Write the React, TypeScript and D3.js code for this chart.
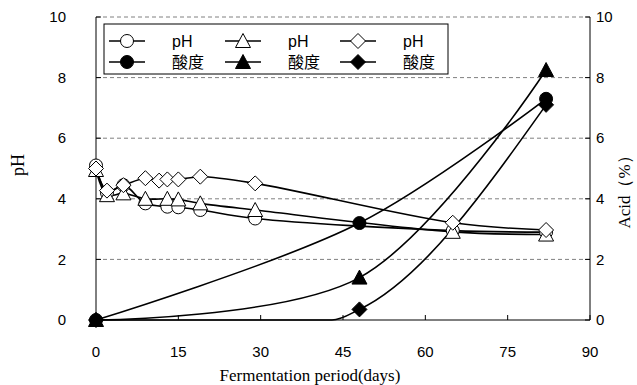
import React from "react";
import * as d3 from "d3";

// Fermentation days and measurements for three batches (circle, triangle, diamond)
const phCircleDays = [0, 2, 5, 9, 13, 15, 19, 29, 65, 82];
const phCircle = [5.1, 4.2, 4.45, 3.85, 3.74, 3.72, 3.63, 3.35, 2.95, 2.9];

const phTriangleDays = [0, 2, 5, 9, 13, 15, 19, 29, 65, 82];
const phTriangle = [4.95, 4.12, 4.18, 4.0, 4.0, 3.98, 3.85, 3.63, 2.91, 2.82];

const phDiamondDays = [0, 2, 5, 9, 11.5, 13, 15, 19, 29, 65, 82];
const phDiamond = [5.0, 4.27, 4.45, 4.68, 4.6, 4.64, 4.64, 4.73, 4.51, 3.21, 2.97];

const acidCircleDays = [0, 48, 82];
const acidCircle = [0, 3.2, 7.3];

const acidTriangleDays = [0, 48, 82];
const acidTriangle = [0, 1.4, 8.25];

const acidDiamondDays = [0, 43, 48, 82];
const acidDiamond = [0, 0, 0.35, 7.1];
const acidDiamondMarked = [true, false, true, true];

const xTicks = [0, 15, 30, 45, 60, 75, 90];
const yTicks = [0, 2, 4, 6, 8, 10];
const legendLabels = ["pH", "酸度"];

type Shape = "circle" | "triangle" | "diamond";

const W = 637;
const H = 385;
const left = 96;
const right = 590;
const top = 17;
const bottom = 320;

const x = d3.scaleLinear().domain([0, 90]).range([left, right]);
const yPH = d3.scaleLinear().domain([0, 10]).range([bottom, top]);
const yAcid = d3.scaleLinear().domain([0, 10]).range([bottom, top]);

const sansFont = "'Liberation Sans', Arial, sans-serif";
const serifFont = "'Liberation Serif', 'Times New Roman', serif";
const cjkFont = "'Liberation Sans', 'Noto Sans CJK SC', sans-serif";

function Marker({ shape, cx, cy, filled }: { shape: Shape; cx: number; cy: number; filled: boolean }) {
  const fill = filled ? "#000" : "#fff";
  if (shape === "circle") {
    return <circle cx={cx} cy={cy} r={6.5} fill={fill} stroke="#000" strokeWidth={1} />;
  }
  if (shape === "triangle") {
    const s = 7.5;
    const p = `${cx},${cy - s} ${cx + s},${cy + 6.5} ${cx - s},${cy + 6.5}`;
    return <polygon points={p} fill={fill} stroke="#000" strokeWidth={1} />;
  }
  const s = 7.5;
  const p = `${cx},${cy - s} ${cx + s},${cy} ${cx},${cy + s} ${cx - s},${cy}`;
  return <polygon points={p} fill={fill} stroke="#000" strokeWidth={1} />;
}

interface Series {
  days: number[];
  values: number[];
  shape: Shape;
  filled: boolean;
  scale: d3.ScaleLinear<number, number>;
  curve: d3.CurveFactory;
  marked?: boolean[];
}

const smooth = d3.curveCatmullRom.alpha(0.5);
const rising = d3.curveMonotoneX;

const seriesList: Series[] = [
  { days: acidCircleDays, values: acidCircle, shape: "circle", filled: true, scale: yAcid, curve: smooth },
  { days: acidTriangleDays, values: acidTriangle, shape: "triangle", filled: true, scale: yAcid, curve: smooth },
  { days: acidDiamondDays, values: acidDiamond, shape: "diamond", filled: true, scale: yAcid, curve: rising, marked: acidDiamondMarked },
  { days: phCircleDays, values: phCircle, shape: "circle", filled: false, scale: yPH, curve: smooth },
  { days: phTriangleDays, values: phTriangle, shape: "triangle", filled: false, scale: yPH, curve: smooth },
  { days: phDiamondDays, values: phDiamond, shape: "diamond", filled: false, scale: yPH, curve: smooth },
];

export default function App() {
  const gridTicks = yTicks.filter((t) => t > 0);

  const lineFor = (s: Series) =>
    d3
      .line<number>()
      .x((_, i) => x(s.days[i]))
      .y((v) => s.scale(v))
      .curve(s.curve)(s.values) || "";

  const legendGroups: { shape: Shape; cx: number; tx: number }[] = [
    { shape: "circle", cx: 127, tx: 172 },
    { shape: "triangle", cx: 243, tx: 288 },
    { shape: "diamond", cx: 358, tx: 403 },
  ];
  const legendRows = [41, 62];

  return (
    <svg
      width={W}
      height={H}
      style={{ position: "absolute", left: 0, top: 0, background: "#fff" }}
    >
      <rect x={0} y={0} width={W} height={H} fill="#fff" />

      {/* dashed horizontal gridlines */}
      {gridTicks.map((t) => (
        <line
          key={`g${t}`}
          x1={left}
          x2={right}
          y1={yPH(t)}
          y2={yPH(t)}
          stroke="#808080"
          strokeWidth={1}
          strokeDasharray="4,3"
        />
      ))}

      {/* axes */}
      <line x1={left} x2={left} y1={top} y2={bottom} stroke="#000" strokeWidth={1} />
      <line x1={right} x2={right} y1={top} y2={bottom} stroke="#000" strokeWidth={1} />
      <line x1={left} x2={right} y1={bottom} y2={bottom} stroke="#000" strokeWidth={1} />

      {yTicks.map((t) => (
        <g key={`yl${t}`}>
          <line x1={left} x2={left + 5} y1={yPH(t)} y2={yPH(t)} stroke="#000" />
          <line x1={right - 5} x2={right} y1={yAcid(t)} y2={yAcid(t)} stroke="#000" />
          <text
            x={66}
            y={yPH(t)}
            dy="0.35em"
            textAnchor="end"
            fontFamily={sansFont}
            fontSize={15}
            fill="#000"
          >
            {t}
          </text>
          <text
            x={596}
            y={yAcid(t)}
            dy="0.35em"
            textAnchor="start"
            fontFamily={sansFont}
            fontSize={15}
            fill="#000"
          >
            {t}
          </text>
        </g>
      ))}

      {xTicks.map((t) => (
        <g key={`xt${t}`}>
          <line x1={x(t)} x2={x(t)} y1={bottom} y2={bottom - 5} stroke="#000" />
          <text
            x={x(t)}
            y={352}
            dy="0.35em"
            textAnchor="middle"
            fontFamily={sansFont}
            fontSize={15}
            fill="#000"
          >
            {t}
          </text>
        </g>
      ))}

      {/* axis titles */}
      <text
        x={310}
        y={381}
        textAnchor="middle"
        fontFamily={serifFont}
        fontSize={17}
        fill="#000"
      >
        Fermentation period(days)
      </text>
      <text
        transform="translate(24,165) rotate(-90)"
        textAnchor="middle"
        fontFamily={serifFont}
        fontSize={18}
        fill="#000"
      >
        pH
      </text>
      <text
        transform="translate(630,188) rotate(-90)"
        textAnchor="middle"
        fontFamily={serifFont}
        fontSize={17}
        fill="#000"
      >
        Acid（%）
      </text>

      {/* lines */}
      {seriesList.map((s, i) => (
        <path key={`l${i}`} d={lineFor(s)} fill="none" stroke="#000" strokeWidth={1.6} />
      ))}

      {/* markers */}
      {seriesList.map((s, i) => (
        <g key={`m${i}`}>
          {s.values.map((v, j) =>
            s.marked && !s.marked[j] ? null : (
              <Marker key={j} shape={s.shape} cx={x(s.days[j])} cy={s.scale(v)} filled={s.filled} />
            )
          )}
        </g>
      ))}

      {/* legend */}
      <rect x={104} y={24} width={344} height={50} fill="#fff" stroke="#000" strokeWidth={1} />
      {legendGroups.map((g) =>
        legendRows.map((ry, r) => (
          <g key={`${g.shape}${r}`}>
            <line x1={g.cx - 18} x2={g.cx + 18} y1={ry} y2={ry} stroke="#000" strokeWidth={1.6} />
            <Marker shape={g.shape} cx={g.cx} cy={ry} filled={r === 1} />
            <text
              x={g.tx}
              y={ry}
              dy="0.38em"
              fontFamily={cjkFont}
              fontSize={16}
              fill="#000"
            >
              {legendLabels[r]}
            </text>
          </g>
        ))
      )}
    </svg>
  );
}
